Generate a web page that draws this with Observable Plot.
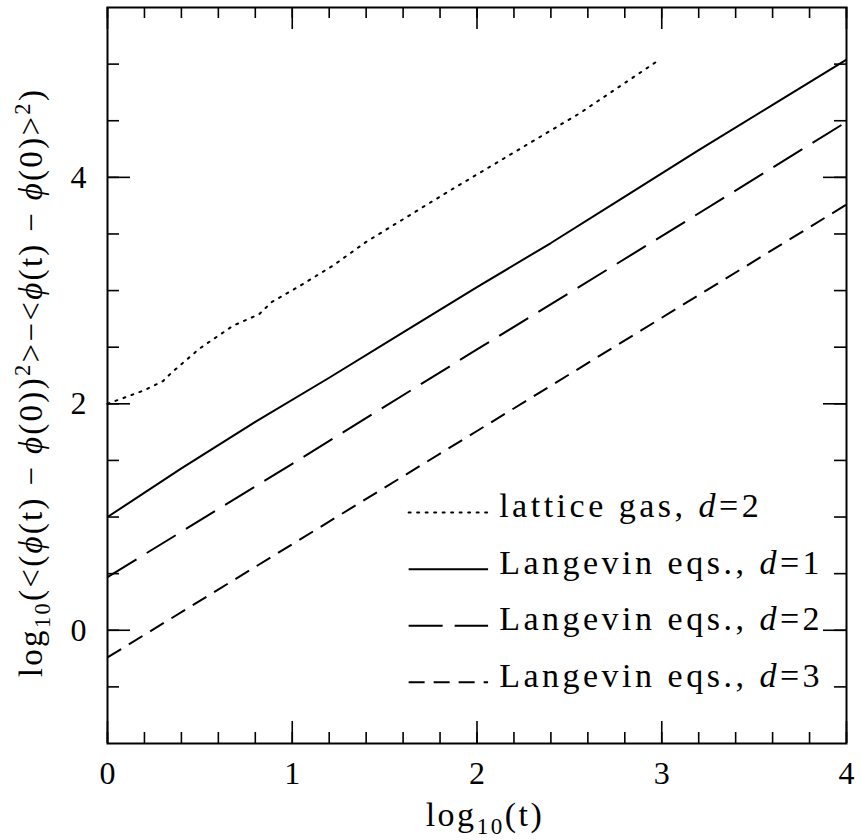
<!DOCTYPE html>
<html><head><meta charset="utf-8">
<script src="https://cdn.jsdelivr.net/npm/d3@7"></script>
<script src="https://cdn.jsdelivr.net/npm/@observablehq/plot@0.6"></script>
<style>body{margin:0;background:#fff}</style>
</head><body><div id="chart"></div>
<script>
// ---- data ----
const latticeX = [0, 0.1, 0.2, 0.3, 0.35, 0.5, 0.68, 0.82, 0.89, 1.04, 1.22, 1.40, 1.58, 1.84, 2.20, 2.56, 2.97];
const latticeY = [2.0, 2.06, 2.12, 2.20, 2.28, 2.49, 2.69, 2.79, 2.90, 3.04, 3.22, 3.43, 3.61, 3.87, 4.22, 4.57, 5.02];
const lang1X = [0, 0.4, 0.8, 1.2, 1.6, 2.0, 2.4, 2.8, 3.2, 3.6, 4.0];
const lang1Y = [1.0, 1.43, 1.84, 2.23, 2.63, 3.03, 3.42, 3.83, 4.24, 4.64, 5.04];
const lang2X = [0, 1, 2, 3, 4];
const lang2Y = [0.47, 1.47, 2.48, 3.48, 4.49];
const lang3X = [0, 1, 2, 3, 4];
const lang3Y = [-0.24, 0.76, 1.76, 2.76, 3.76];
const legendNames = ["lattice gas,", "Langevin eqs.,", "Langevin eqs.,", "Langevin eqs.,"];
const legendDims = ["2", "1", "2", "3"];
const xTickLabels = [0, 1, 2, 3, 4];
const yTickLabels = [0, 2, 4];
const xMinorTicks = d3.range(0, 4.0001, 0.2).map(v => +v.toFixed(1));
const yMinorTicks = d3.range(-0.5, 5.0001, 0.5);

// ---- layout / style ----
const W = 861, H = 840;
const mL = 107, mR = 15, mT = 7, mB = 97;
const fw = W - mL - mR, fh = H - mT - mB;
const FONT = "'Liberation Serif', 'Times New Roman', serif";
const dashes = ["2,6.5", null, "34,12", "16,9"];

const series = [
  {x: latticeX, y: latticeY},
  {x: lang1X, y: lang1Y},
  {x: lang2X, y: lang2Y},
  {x: lang3X, y: lang3Y}
].map(s => s.x.map((x, i) => ({x, y: s.y[i]})));

const marks = [];
series.forEach((pts, k) => {
  marks.push(Plot.line(pts, {x: "x", y: "y", stroke: "black", strokeWidth: 2,
    strokeDasharray: dashes[k] ?? undefined, strokeLinecap: k === 0 ? "round" : "butt"}));
});

// legend (samples + labels)
const legRows = legendNames.map((name, i) => ({name, dim: legendDims[i], y: 1.0 - 0.5 * i}));
legRows.forEach((r, k) => {
  marks.push(Plot.line([{x: 1.63, y: r.y + 0.04}, {x: 2.06, y: r.y + 0.04}], {x: "x", y: "y",
    stroke: "black", strokeWidth: 2, strokeDasharray: dashes[k] ?? undefined,
    strokeLinecap: k === 0 ? "round" : "butt"}));
});
marks.push(Plot.text(legRows, {x: () => 2.12, y: "y", text: "name", textAnchor: "start",
  lineAnchor: "bottom", fontSize: 34, className: "legend"}));

// ticks (inward, all four sides)
marks.push(Plot.tickX(xMinorTicks, {x: d => d, insetTop: fh - 11, stroke: "black", strokeWidth: 1.6}));
marks.push(Plot.tickX(xMinorTicks, {x: d => d, insetBottom: fh - 11, stroke: "black", strokeWidth: 1.6}));
marks.push(Plot.tickX(xTickLabels, {x: d => d, insetTop: fh - 22, stroke: "black", strokeWidth: 1.6}));
marks.push(Plot.tickX(xTickLabels, {x: d => d, insetBottom: fh - 22, stroke: "black", strokeWidth: 1.6}));
marks.push(Plot.tickY(yMinorTicks, {y: d => d, insetRight: fw - 12, stroke: "black", strokeWidth: 1.6}));
marks.push(Plot.tickY(yMinorTicks, {y: d => d, insetLeft: fw - 12, stroke: "black", strokeWidth: 1.6}));
marks.push(Plot.tickY(yTickLabels, {y: d => d, insetRight: fw - 23, stroke: "black", strokeWidth: 1.6}));
marks.push(Plot.tickY(yTickLabels, {y: d => d, insetLeft: fw - 23, stroke: "black", strokeWidth: 1.6}));
marks.push(Plot.frame({stroke: "black", strokeWidth: 2}));

// tick labels
marks.push(Plot.axisX(xTickLabels, {tickSize: 0, tickPadding: 18, fontSize: 32, label: null, tickFormat: d => String(d)}));
marks.push(Plot.axisY(yTickLabels, {tickSize: 0, tickPadding: 21, fontSize: 32, label: null, tickFormat: d => String(d)}));

// axis titles (rich text filled in afterwards)
marks.push(Plot.text(["log10(t)"], {frameAnchor: "bottom", dx: 8, dy: 82, lineAnchor: "bottom", textAnchor: "middle", fontSize: 34, className: "xlab"}));
marks.push(Plot.text(["ylabel"], {frameAnchor: "left", dx: -76, dy: 7, rotate: -90, textAnchor: "middle", fontSize: 33, className: "ylab"}));

const svg = Plot.plot({
  width: W, height: H,
  marginLeft: mL, marginRight: mR, marginTop: mT, marginBottom: mB,
  x: {domain: [0, 4]},
  y: {domain: [-1, 5.5]},
  style: {fontFamily: FONT, background: "white", color: "black", overflow: "visible"},
  marks
});
document.getElementById("chart").appendChild(svg);

// ---- rich text helpers ----
function rich(el, parts, fs, spacing) {
  el.textContent = "";
  if (spacing) el.setAttribute("letter-spacing", spacing);
  let shift = 0;
  for (const [t, kind] of parts) {
    const ts = document.createElementNS("http://www.w3.org/2000/svg", "tspan");
    let target = 0, size = fs;
    if (kind === "sub") { target = 0.25 * fs; size = 0.68 * fs; }
    if (kind === "sup") { target = -0.38 * fs; size = 0.68 * fs; }
    ts.setAttribute("dy", String(target - shift));
    shift = target;
    ts.setAttribute("font-size", size);
    if (kind === "i") ts.setAttribute("font-style", "italic");
    ts.textContent = t;
    el.appendChild(ts);
  }
}
const yParts = [["log"], ["10", "sub"], ["(<("], ["ϕ", "i"], ["(t) − "], ["ϕ", "i"], ["(0))"], ["2", "sup"],
  [">−<"], ["ϕ", "i"], ["(t) − "], ["ϕ", "i"], ["(0)>"], ["2", "sup"], [")"]];
rich(svg.querySelector("g.ylab text"), yParts, 33, 2.3);
rich(svg.querySelector("g.xlab text"), [["log"], ["10", "sub"], ["(t)"]], 34, 2.5);
svg.querySelectorAll("g.legend text").forEach((el, i) => {
  rich(el, [[legendNames[i] + " "], ["d", "i"], ["=" + legendDims[i]]], 34, 3.5);
});
</script>
</body></html>
